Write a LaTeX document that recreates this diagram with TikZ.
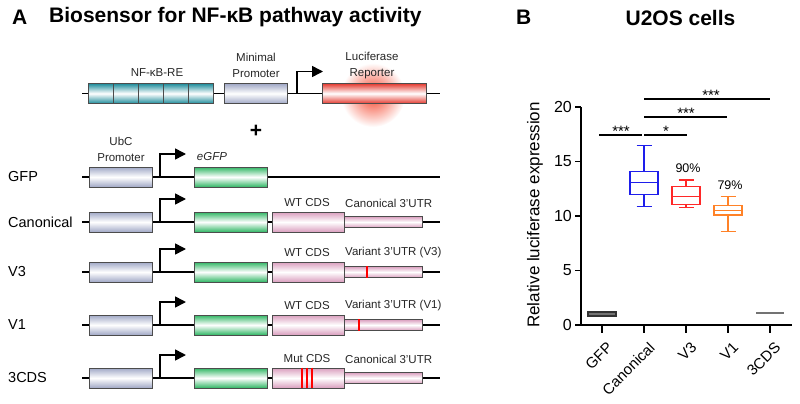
\documentclass[tikz,border=0pt]{standalone}
\usepackage{fontspec}
\setmainfont{Liberation Sans}
\usetikzlibrary{arrows.meta}

\definecolor{reteal}{RGB}{30,140,155}
\definecolor{promgray}{RGB}{160,168,198}
\definecolor{lucred}{RGB}{228,58,48}
\definecolor{gfpgreen}{RGB}{48,182,100}
\definecolor{cdspink}{RGB}{218,158,190}
\definecolor{glow}{RGB}{245,70,45}
\definecolor{boxblue}{RGB}{30,30,235}
\definecolor{boxred}{RGB}{255,40,40}
\definecolor{boxorange}{RGB}{255,130,40}

\tikzset{
  dna/.style={line width=1.5pt},
  part/.style={draw=black!70, line width=0.7pt, rectangle, inner sep=0pt, anchor=west, minimum height=20pt},
  reblock/.style={part, top color=reteal, bottom color=reteal, middle color=white},
  promblock/.style={part, top color=promgray, bottom color=promgray, middle color=white},
  lucblock/.style={part, top color=lucred, bottom color=lucred, middle color=white},
  gfpblock/.style={part, top color=gfpgreen, bottom color=gfpgreen, middle color=white},
  cdsblock/.style={part, top color=cdspink, bottom color=cdspink, middle color=white},
  tssarrow/.style={line width=1.6pt, -{Triangle[length=11pt,width=11pt]}},
  mut/.style={red, line width=1.5pt},
  lbl/.style={font=\fontsize{11.5}{16}\selectfont, text=black!85, align=center},
  rowlbl/.style={font=\fontsize{14.5}{16}\selectfont, anchor=west, inner sep=0pt},
  paneltitle/.style={font=\bfseries\fontsize{21}{22}\selectfont},
  axis/.style={line width=1.3pt},
  ticklbl/.style={font=\fontsize{16}{18}\selectfont, inner sep=0pt},
  catlbl/.style={font=\fontsize{15}{17}\selectfont, rotate=45, anchor=north east, inner sep=0pt},
  sig/.style={line width=1.2pt},
  stars/.style={font=\fontsize{15}{17}\selectfont, anchor=base, inner sep=0pt}
}

\begin{document}
\begin{tikzpicture}[x=1pt, y=-1pt]
\useasboundingbox (0,0) rectangle (800,404);

% Panel titles
\node[paneltitle, anchor=west, inner sep=0pt] (lblA) at (12,17.5) {A};
\node[paneltitle, anchor=west, inner sep=0pt] (titleA) at (49,17.5) {Biosensor for NF-κB pathway activity};
\node[paneltitle, anchor=west, inner sep=0pt] (lblB) at (516,17.5) {B};
\node[paneltitle] (titleB) at (680.5,17.5) {U2OS cells};

% Reporter construct
\shade[inner color=glow, outer color=white] (373,95) circle (32pt);
\coordinate (s0) at (82,93.5);
\coordinate (e0) at (440,93.5);
\draw[dna] (s0) -- (e0);
\foreach \k in {0,...,4}
  \node[reblock, minimum width=24.5pt] (re\k) at (88+25*\k,93.5) {};
\node[promblock, minimum width=63pt] (minprom) at (224,93.5) {};
\node[lucblock, minimum width=104pt] (luc) at (322,93.5) {};
\coordinate (tss0) at (297,93.5);
\draw[tssarrow] (tss0) |- ++(26,-22);

\node[lbl] (relbl) at (157,73) {NF-κB-RE};
\node[lbl] (minlbl) at (256,65) {Minimal\\Promoter};
\node[lbl] (luclbl) at (372,65.5) {Luciferase\\Reporter};
\node[font=\bfseries\fontsize{21}{22}\selectfont] (plus) at (256,131.5) {+};

% GFP control
\coordinate (sg) at (82,177);
\coordinate (eg) at (440,177);
\draw[dna] (sg) -- (eg);
\node[promblock, minimum width=63pt] (ubc0) at (89,177) {};
\node[gfpblock, minimum width=73pt] (egfp0) at (194,177) {};
\coordinate (tssg) at (160,177);
\draw[tssarrow] (tssg) |- ++(26,-23);
\node[lbl] (ubclbl) at (121,149) {UbC\\Promoter};
\node[lbl, font=\itshape\fontsize{11.5}{16}\selectfont] (egfplbl) at (212,157) {eGFP};
\node[rowlbl] (row0) at (8,177) {GFP};

% Sensor constructs
\foreach \i/\nm/\yy/\cdstxt/\utrtxt in {1/Canonical/222/{WT CDS}/{Canonical 3’UTR},
    2/V3/272/{WT CDS}/{Variant 3’UTR (V3)},
    3/V1/325/{WT CDS}/{Variant 3’UTR (V1)},
    4/3CDS/378/{Mut CDS}/{Canonical 3’UTR}}{
  \coordinate (s\i) at (82,\yy);
  \coordinate (e\i) at (440,\yy);
  \draw[dna] (s\i) -- (e\i);
  \node[promblock, minimum width=63pt] (ubc\i) at (89,\yy) {};
  \node[gfpblock, minimum width=73pt] (egfp\i) at (194,\yy) {};
  \node[cdsblock, minimum width=72pt] (cds\i) at (272,\yy) {};
  \node[cdsblock, minimum width=78pt, minimum height=11pt] (utr\i) at (344,\yy) {};
  \coordinate (tss\i) at (160,\yy);
  \draw[tssarrow] (tss\i) |- ++(26,-23);
  \node[lbl] (cdslbl\i) at (307,\yy-19) {\cdstxt};
  \node[lbl, anchor=west, inner sep=0pt] (utrlbl\i) at (345,\yy-19) {\utrtxt};
  \node[rowlbl] (row\i) at (8,\yy) {\nm};
}

% Mutations
\draw[mut] ([xshift=23pt]utr2.north west) -- ([xshift=23pt]utr2.south west);
\draw[mut] ([xshift=15pt]utr3.north west) -- ([xshift=15pt]utr3.south west);
\foreach \dx in {30,35,40}
  \draw[mut] ([xshift=\dx pt]cds4.north west) -- ([xshift=\dx pt]cds4.south west);

% Box plot
\node[font=\fontsize{17}{19}\selectfont, rotate=90] (ylabel) at (535,215) {Relative luciferase expression};
\begin{scope}[shift={(0,325)}, y=10.9pt]
  \draw[axis] (581,20) -- (581,0) -- (792,0);
  \foreach \v in {0,5,...,20} {
    \draw[axis] (581,\v) -- ++(-6pt,0);
    \node[ticklbl, anchor=east] at (572,\v) {\v};
  }
  \foreach \cx in {602,644,686,728,770}
    \draw[axis] (\cx,0) -- ++(0,-8pt);
  % boxes
  \foreach \cx/\wl/\qa/\md/\qb/\wh/\col in {644/10.85/12.0/13.05/14.1/16.45/boxblue,
      686/10.77/11.05/11.8/12.7/13.3/boxred,
      728/8.6/10.1/10.5/11.0/11.77/boxorange}{
    \draw[\col, line width=1.2pt] (\cx-14,\qa) rectangle (\cx+14,\qb);
    \draw[\col, line width=1.2pt] (\cx-14,\md) -- (\cx+14,\md);
    \draw[\col, line width=1.2pt] (\cx,\qb) -- (\cx,\wh) (\cx-7.5,\wh) -- (\cx+7.5,\wh);
    \draw[\col, line width=1.2pt] (\cx,\qa) -- (\cx,\wl) (\cx-7.5,\wl) -- (\cx+7.5,\wl);
  }
  \draw[fill=black!55, draw=black!80, line width=1.3pt] (588,0.82) rectangle (616,1.18);
  \draw[black!55, line width=1.6pt] (756,1.1) -- (784,1.1);
\end{scope}

\node[font=\fontsize{12.5}{14}\selectfont] (pv3) at (688,168) {90\%};
\node[font=\fontsize{12.5}{14}\selectfont] (pv1) at (730,185) {79\%};

\foreach \cx/\nm in {602/GFP, 644/Canonical, 686/V3, 728/V1, 770/3CDS}
  \node[catlbl] (cat\nm) at (\cx+4,341) {\nm};

% Significance
\draw[sig] (599,135) -- (642,135);
\node[stars] (sgfp) at (621,136.5) {***};
\draw[sig] (644,135) -- (687,135);
\node[stars] (sv3) at (666,136.5) {*};
\draw[sig] (644,117) -- (727,117);
\node[stars] (sv1) at (686,118.5) {***};
\draw[sig] (644,99) -- (770,99);
\node[stars] (s3cds) at (711,100.5) {***};
\end{tikzpicture}
\end{document}
